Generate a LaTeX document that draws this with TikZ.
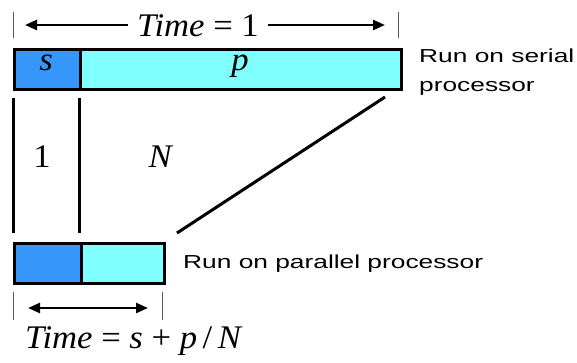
\documentclass[tikz,border=0pt]{standalone}
\usepackage{fontspec}
\setmainfont{Liberation Serif}
\newfontfamily\labelfont[FakeStretch=1.4]{Liberation Sans}
\newfontfamily\bigfont[FakeStretch=1.05]{Liberation Serif}
\usetikzlibrary{arrows.meta}
\definecolor{serialblue}{RGB}{55,150,250}
\definecolor{parcyan}{RGB}{128,255,255}
\begin{document}
\begin{tikzpicture}[x=1pt,y=-1pt,
  barpart/.style={draw=black, line width=3pt, inner sep=0pt, anchor=north west, minimum height=40pt},
  sbox/.style={barpart, fill=serialblue},
  pbox/.style={barpart, fill=parcyan},
  tick/.style={draw=gray!70!black, line width=0.8pt},
  bar/.style={line width=3pt},
  dim/.style={line width=2.5pt, -{Triangle[length=12pt,width=10pt]}},
  dimboth/.style={line width=2.5pt, {Triangle[length=12pt,width=10pt]}-{Triangle[length=12pt,width=10pt]}},
  big/.style={font=\bigfont\fontsize{33}{35}\selectfont, inner sep=0pt},
  lab/.style={font=\labelfont\fontsize{18.8}{29.5}\selectfont, inner sep=0pt}
]
\useasboundingbox (0,0) rectangle (577,362);
% top bar
\node[sbox, minimum width=66pt] (s1) at (13,48) {};
\node[pbox, minimum width=321pt] (p1) at (79,48) {};
\node[big, anchor=base] at (46,70) {\textit{s}};
\node[big, anchor=base] at (240,70) {\textit{p}};
% top dimension
\coordinate (tl1) at (13,12); \coordinate (tl2) at (13,38);
\coordinate (tr1) at (398,12); \coordinate (tr2) at (398,38);
\draw[tick] (tl1) -- (tl2);
\draw[tick] (tr1) -- (tr2);
\node[big, anchor=base, inner xsep=9pt] (t1) at (198,36) {\textit{Time} = 1};
\coordinate (al) at (25,25); \coordinate (ar) at (385,25);
\draw[dim] (t1.west |- al) -- (al);
\draw[dim] (t1.east |- ar) -- (ar);
% labels
\node[lab, anchor=base west] (lser) at (419,62) {\vtop{\hbox{Run on serial}\hbox{processor}}};
% connecting lines
\coordinate (v1a) at (13,98); \coordinate (v1b) at (13,233);
\coordinate (v2a) at (79,98); \coordinate (v2b) at (79,233);
\coordinate (da) at (385,97); \coordinate (db) at (177,233);
\draw[bar] (v1a) -- (v1b);
\draw[bar] (v2a) -- (v2b);
\draw[bar] (da) -- (db);
\node[big, anchor=base] (one) at (42,167) {1};
\node[big, anchor=base] (nn) at (161,167) {\textit{N}};
% bottom bar
\node[sbox, minimum width=67pt] (s2) at (13,242) {};
\node[pbox, minimum width=83pt] (p2) at (80,242) {};
\node[lab, anchor=base west] (lpar) at (183,268) {Run on parallel processor};
% bottom dimension
\coordinate (bl1) at (13,292); \coordinate (bl2) at (13,320);
\coordinate (br1) at (162,292); \coordinate (br2) at (162,320);
\draw[tick] (bl1) -- (bl2);
\draw[tick] (br1) -- (br2);
\coordinate (bal) at (28,308); \coordinate (bar) at (148,308);
\draw[dimboth] (bal) -- (bar);
\node[big, anchor=base west] (t2) at (25,348) {\textit{Time} = \textit{s} + \textit{p}\,/\,\textit{N}};
\end{tikzpicture}
\end{document}
